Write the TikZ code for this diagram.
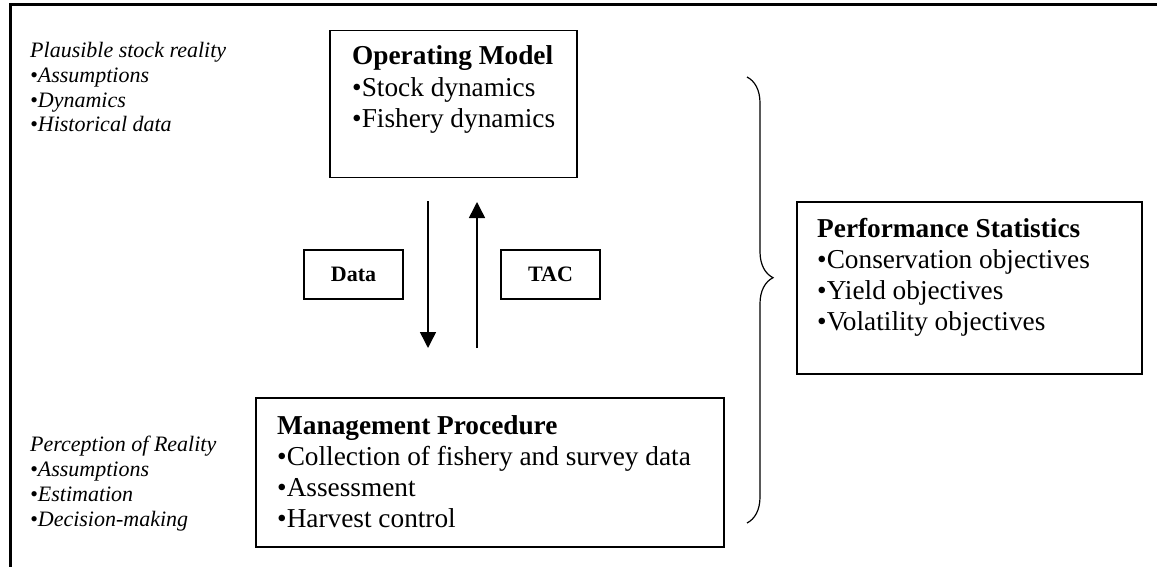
\documentclass[tikz,border=0pt]{standalone}
\usepackage{fontspec}
\setmainfont{Liberation Serif}
\usepackage{tikz}
\usetikzlibrary{arrows.meta,positioning,decorations.pathreplacing}

\tikzset{
  box/.style={draw, line width=1.5pt, inner sep=0pt, anchor=north west},
  boxtext/.style={anchor=base west, align=left, inner sep=0pt, font=\fontsize{27.3}{31}\selectfont},
  side/.style={anchor=base west, align=left, inner sep=0pt, font=\fontsize{22}{24.7}\selectfont\itshape},
  tag/.style={draw, line width=1.5pt, minimum width=99pt, minimum height=49pt, inner sep=0pt, font=\fontsize{22}{24}\selectfont\bfseries},
  flow/.style={line width=1.5pt, -{Triangle[length=16pt,width=16pt]}},
}

\begin{document}
\begin{tikzpicture}[x=1pt,y=-1pt]
  \useasboundingbox (0,0) rectangle (1157,567);
  % frame
  \draw[line width=3pt] (10,567) |- (1157,5);

  % left notes (placed by the last baseline)
  \node[side] (plaus) at (30,132) {Plausible stock reality\\•Assumptions\\•Dynamics\\•Historical data};
  \node[side] (percep) at (30,526) {Perception of Reality\\•Assumptions\\•Estimation\\•Decision-making};

  % main boxes
  \node[box, minimum width=247pt, minimum height=147pt] (om) at (329,30) {};
  \node[boxtext, font=\fontsize{27.3}{31.5}\selectfont] (omtext) at (352,128) {\textbf{Operating Model}\\•Stock dynamics\\•Fishery dynamics};

  \node[box, minimum width=468pt, minimum height=149pt] (mp) at (255,397) {};
  \node[boxtext] (mptext) at (277,527) {\textbf{Management Procedure}\\•Collection of fishery and survey data\\•Assessment\\•Harvest control};

  \node[box, minimum width=345pt, minimum height=172pt] (ps) at (796,201) {};
  \node[boxtext] (pstext) at (817,330) {\textbf{Performance Statistics}\\•Conservation objectives\\•Yield objectives\\•Volatility objectives};

  % data and TAC
  \node[tag] (data) at (353.5,274.5) {Data};
  \node[tag] (tac) at (550.5,274.5) {TAC};

  \coordinate (dtop) at (428,201);
  \coordinate (dbot) at (428,348);
  \coordinate (ubot) at (477,348);
  \coordinate (utop) at (477,202);
  \draw[flow] (dtop) -- (dbot);
  \draw[flow] (ubot) -- (utop);

  % brace
  \coordinate (btop) at (747,77);
  \coordinate (bbot) at (747,523);
  \draw[line width=1.2pt, decorate, decoration={brace, amplitude=26pt, aspect=0.45}] (btop) -- (bbot);
\end{tikzpicture}
\end{document}
